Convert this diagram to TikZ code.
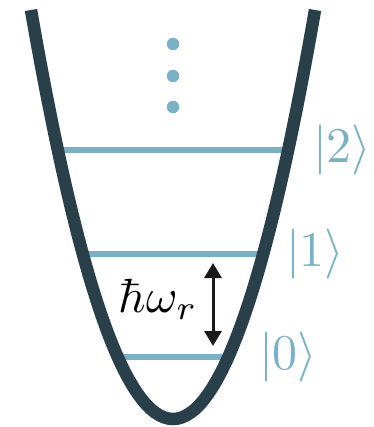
\documentclass[tikz,border=0pt]{standalone}
\usetikzlibrary{arrows.meta}
\definecolor{well}{HTML}{29404A}
\definecolor{lvl}{HTML}{79B2C7}
\tikzset{
  wellline/.style={draw=well,line width=12.5pt,line cap=butt},
  levelline/.style={draw=lvl,line width=6.5pt},
  dotnode/.style={circle,fill=lvl,inner sep=0pt,minimum size=12.5pt},
  ketlabel/.style={text=lvl,anchor=west,inner sep=0pt,scale=5,transform shape},
  gaparrow/.style={draw=black!90,line width=3pt,{Triangle[length=15pt,width=17pt]}-{Triangle[length=15pt,width=17pt]}}
}
\begin{document}
\begin{tikzpicture}[x=1pt,y=-1pt]
\useasboundingbox (0,0) rectangle (373,427);
% energy levels
\coordinate (l2a) at (57.8,150);
\coordinate (l2b) at (288.2,150);
\coordinate (l1a) at (82.8,254);
\coordinate (l1b) at (263.2,254);
\coordinate (l0a) at (117.7,357);
\coordinate (l0b) at (228.3,357);
\draw[levelline] (l2a) -- (l2b);
\draw[levelline] (l1a) -- (l1b);
\draw[levelline] (l0a) -- (l0b);
% potential well
\coordinate (wl) at (31,10);
\coordinate (wr) at (315,10);
\draw[wellline] (wl) .. controls (125.67,555.33) and (220.33,555.33) .. (wr);
% dots
\node[dotnode] (d1) at (173,44) {};
\node[dotnode] (d2) at (173,76) {};
\node[dotnode] (d3) at (173,107) {};
% labels
\node[ketlabel] (k2) at (312,150) {$|2\rangle$};
\node[ketlabel] (k1) at (285,254) {$|1\rangle$};
\node[ketlabel] (k0) at (258,357) {$|0\rangle$};
% gap arrow
\coordinate (at) at (213,263);
\coordinate (ab) at (213,346);
\draw[gaparrow] (at) -- (ab);
\node[anchor=base west,inner sep=0pt,scale=4.8,transform shape] (hw) at (118,312) {$\hbar\omega_r$};
\end{tikzpicture}
\end{document}
